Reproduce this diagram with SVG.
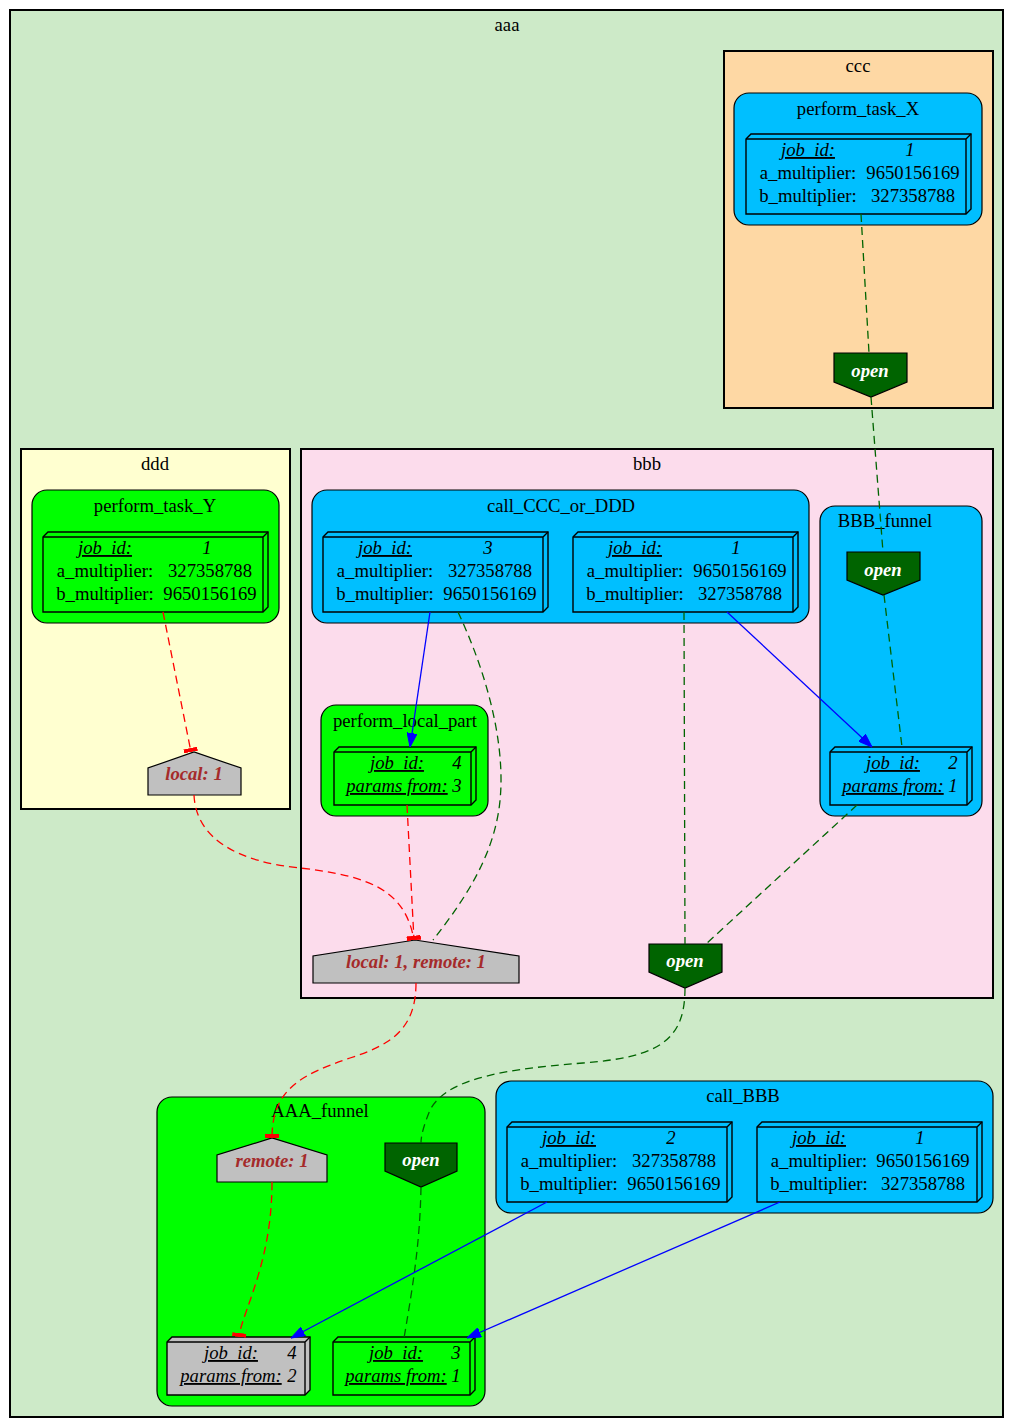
<svg xmlns="http://www.w3.org/2000/svg" width="1015" height="1428" viewBox="0 0 1015 1428">
<style>
text{font-family:"Liberation Serif","Times New Roman",serif;font-size:18.67px;fill:#000}
.c{text-anchor:middle}
.i{font-style:italic}
.u{text-decoration:underline}
.big{stroke:#000;stroke-width:2}
.sub{stroke:#000;stroke-width:1.2}
.b3{stroke:#000;stroke-width:1.4}
.b3l{fill:none;stroke:#000;stroke-width:1.4}
.tag{font-weight:bold;font-style:italic;text-anchor:middle}
.open{fill:#fff}
.loc{fill:#a52a2a}
.g{fill:none;stroke:#006400;stroke-width:1.3;stroke-dasharray:8,5}
.r{fill:none;stroke:#ff0000;stroke-width:1.3;stroke-dasharray:8,5}
.bl{fill:none;stroke:#0000ff;stroke-width:1.3}
.blue{fill:#00bfff}
.green{fill:#00ff00}
.gray{fill:#c0c0c0}
.dg{fill:#006400}
</style>
<defs>
<marker id="arr" markerUnits="userSpaceOnUse" markerWidth="14" markerHeight="10" viewBox="0 0 14 10" refX="14" refY="5" orient="auto">
<path d="M0,0 L14,5 L0,10 z" fill="#0000ff" stroke="#0000ff" stroke-width="1"/>
</marker>
<marker id="tee" markerUnits="userSpaceOnUse" markerWidth="4" markerHeight="14" viewBox="0 0 4 14" refX="4" refY="7" orient="auto">
<rect x="0" y="0" width="4" height="14" fill="#ff0000"/>
</marker>
</defs>

<g id="cluster_aaa">
<rect x="10" y="10" width="993" height="1407" fill="#cdeac8" class="big"/>
<text class="c" x="507" y="31">aaa</text>
</g>

<g id="cluster_ccc">
<rect x="724" y="51" width="269" height="357" fill="#fed8a4" class="big"/>
<text class="c" x="858" y="72">ccc</text>
</g>

<g id="cluster_ddd">
<rect x="21" y="449" width="269" height="360" fill="#ffffd0" class="big"/>
<text class="c" x="155" y="470">ddd</text>
</g>

<g id="cluster_bbb">
<rect x="301" y="449" width="692" height="549" fill="#fcdcec" class="big"/>
<text class="c" x="647" y="470">bbb</text>
</g>

<g id="perform_task_X">
<rect x="734" y="93" width="248" height="132" rx="15" class="sub blue"/>
<text class="c" x="858" y="115">perform_task_X</text>
<g id="X_job1">
<path d="M746,139 L751,134 L971,134 L971,209 L966,214 L746,214 z" class="b3 blue"/>
<path d="M746,139 L966,139 L966,214 M966,139 L971,134" class="b3l"/>
<text class="c i u" x="808" y="156">job_id:</text><text class="c i" x="910" y="156">1</text>
<text class="c" x="808" y="179">a_multiplier:</text><text class="c" x="913" y="179">9650156169</text>
<text class="c" x="808" y="202">b_multiplier:</text><text class="c" x="913" y="202">327358788</text>
</g>
</g>

<g id="open_ccc">
<path d="M834,353 L907,353 L907,382 L871,397 L834,382 z" class="sub dg"/>
<text class="tag open" x="870" y="377">open</text>
</g>

<g id="perform_task_Y">
<rect x="32" y="490" width="247" height="133" rx="15" class="sub green"/>
<text class="c" x="155" y="512">perform_task_Y</text>
<g id="Y_job1">
<path d="M43,537 L48,532 L268,532 L268,607 L263,612 L43,612 z" class="b3 green"/>
<path d="M43,537 L263,537 L263,612 M263,537 L268,532" class="b3l"/>
<text class="c i u" x="105" y="554">job_id:</text><text class="c i" x="207" y="554">1</text>
<text class="c" x="105" y="577">a_multiplier:</text><text class="c" x="210" y="577">327358788</text>
<text class="c" x="105" y="600">b_multiplier:</text><text class="c" x="210" y="600">9650156169</text>
</g>
</g>

<g id="local_ddd">
<path d="M148,795 L148,768 L194,752 L241,768 L241,795 z" class="sub gray"/>
<text class="tag loc" x="194" y="780">local: 1</text>
</g>

<g id="call_CCC_or_DDD">
<rect x="312" y="490" width="497" height="133" rx="15" class="sub blue"/>
<text class="c" x="561" y="512">call_CCC_or_DDD</text>
<g id="CCC_job3">
<path d="M323,537 L328,532 L548,532 L548,607 L543,612 L323,612 z" class="b3 blue"/>
<path d="M323,537 L543,537 L543,612 M543,537 L548,532" class="b3l"/>
<text class="c i u" x="385" y="554">job_id:</text><text class="c i" x="488" y="554">3</text>
<text class="c" x="385" y="577">a_multiplier:</text><text class="c" x="490" y="577">327358788</text>
<text class="c" x="385" y="600">b_multiplier:</text><text class="c" x="490" y="600">9650156169</text>
</g>
<g id="CCC_job1">
<path d="M573,537 L578,532 L798,532 L798,607 L793,612 L573,612 z" class="b3 blue"/>
<path d="M573,537 L793,537 L793,612 M793,537 L798,532" class="b3l"/>
<text class="c i u" x="635" y="554">job_id:</text><text class="c i" x="736" y="554">1</text>
<text class="c" x="635" y="577">a_multiplier:</text><text class="c" x="740" y="577">9650156169</text>
<text class="c" x="635" y="600">b_multiplier:</text><text class="c" x="740" y="600">327358788</text>
</g>
</g>

<g id="BBB_funnel">
<rect x="820" y="506" width="162" height="310" rx="15" class="sub blue"/>
<text class="c" x="885" y="527">BBB_funnel</text>
<g id="open_BBB">
<path d="M847,552 L920,552 L920,580 L883,595 L847,580 z" class="sub dg"/>
<text class="tag open" x="883" y="576">open</text>
</g>
<g id="BBB_job2">
<path d="M830,752 L835,747 L972,747 L972,800 L967,805 L830,805 z" class="b3 blue"/>
<path d="M830,752 L967,752 L967,805 M967,752 L972,747" class="b3l"/>
<text class="c i u" x="893" y="769">job_id:</text><text class="c i" x="953" y="769">2</text>
<text class="c i u" x="893" y="792">params from:</text><text class="c i" x="953" y="792">1</text>
</g>
</g>

<g id="perform_local_part">
<rect x="321" y="705" width="167" height="111" rx="15" class="sub green"/>
<text class="c" x="405" y="727">perform_local_part</text>
<g id="local_job4">
<path d="M334,752 L339,747 L476,747 L476,800 L471,805 L334,805 z" class="b3 green"/>
<path d="M334,752 L471,752 L471,805 M471,752 L476,747" class="b3l"/>
<text class="c i u" x="397" y="769">job_id:</text><text class="c i" x="457" y="769">4</text>
<text class="c i u" x="397" y="792">params from:</text><text class="c i" x="457" y="792">3</text>
</g>
</g>

<g id="local_remote_bbb">
<path d="M313,983 L313,956 L415,940 L519,956 L519,983 z" class="sub gray"/>
<text class="tag loc" x="416" y="968">local: 1, remote: 1</text>
</g>

<g id="open_bbb">
<path d="M649,944 L722,944 L722,972 L685,988 L649,972 z" class="sub dg"/>
<text class="tag open" x="685" y="967">open</text>
</g>

<g id="AAA_funnel">
<rect x="157" y="1097" width="328" height="309" rx="15" class="sub green"/>
<text class="c" x="320" y="1117">AAA_funnel</text>
<g id="remote_AAA">
<path d="M217,1182 L217,1155 L272,1138 L327,1155 L327,1182 z" class="sub gray"/>
<text class="tag loc" x="272" y="1167">remote: 1</text>
</g>
<g id="open_AAA">
<path d="M385,1143 L457,1143 L457,1171 L421,1187 L385,1171 z" class="sub dg"/>
<text class="tag open" x="421" y="1166">open</text>
</g>
<g id="AAA_job4">
<path d="M167,1342 L172,1337 L310,1337 L310,1390 L305,1395 L167,1395 z" class="b3 gray"/>
<path d="M167,1342 L305,1342 L305,1395 M305,1342 L310,1337" class="b3l"/>
<text class="c i u" x="231" y="1359">job_id:</text><text class="c i" x="292" y="1359">4</text>
<text class="c i u" x="231" y="1382">params from:</text><text class="c i" x="292" y="1382">2</text>
</g>
<g id="AAA_job3">
<path d="M333,1342 L338,1337 L475,1337 L475,1390 L470,1395 L333,1395 z" class="b3 green"/>
<path d="M333,1342 L470,1342 L470,1395 M470,1342 L475,1337" class="b3l"/>
<text class="c i u" x="396" y="1359">job_id:</text><text class="c i" x="456" y="1359">3</text>
<text class="c i u" x="396" y="1382">params from:</text><text class="c i" x="456" y="1382">1</text>
</g>
</g>

<g id="call_BBB">
<rect x="496" y="1081" width="497" height="132" rx="15" class="sub blue"/>
<text class="c" x="743" y="1102">call_BBB</text>
<g id="BBB_call_job2">
<path d="M507,1127 L512,1122 L732,1122 L732,1197 L727,1202 L507,1202 z" class="b3 blue"/>
<path d="M507,1127 L727,1127 L727,1202 M727,1127 L732,1122" class="b3l"/>
<text class="c i u" x="569" y="1144">job_id:</text><text class="c i" x="671" y="1144">2</text>
<text class="c" x="569" y="1167">a_multiplier:</text><text class="c" x="674" y="1167">327358788</text>
<text class="c" x="569" y="1190">b_multiplier:</text><text class="c" x="674" y="1190">9650156169</text>
</g>
<g id="BBB_call_job1">
<path d="M757,1127 L762,1122 L982,1122 L982,1197 L977,1202 L757,1202 z" class="b3 blue"/>
<path d="M757,1127 L977,1127 L977,1202 M977,1127 L982,1122" class="b3l"/>
<text class="c i u" x="819" y="1144">job_id:</text><text class="c i" x="920" y="1144">1</text>
<text class="c" x="819" y="1167">a_multiplier:</text><text class="c" x="923" y="1167">9650156169</text>
<text class="c" x="819" y="1190">b_multiplier:</text><text class="c" x="923" y="1190">327358788</text>
</g>
</g>

<g id="edges">
<path class="g" d="M861,214 L869,353"/>
<path class="g" d="M871,397 L883,552"/>
<path class="g" d="M884,595 L902,747"/>
<path class="g" d="M857,805 L706,944"/>
<path class="g" d="M684,612 L685,944"/>
<path class="g" d="M458,612 C490,680 510,760 497,820 C487,868 458,908 433,940"/>
<path class="g" d="M685,988 C685,1040 660,1057 583,1063 C490,1070 445,1082 430,1110 C424,1125 421,1135 421,1143"/>
<path class="g" d="M421,1187 C420,1240 414,1280 404,1338"/>
<path class="r" marker-end="url(#tee)" d="M163,612 L191,752"/>
<path class="r" marker-end="url(#tee)" d="M194,795 C196,840 240,862 300,868 C370,876 405,890 414,940"/>
<path class="r" marker-end="url(#tee)" d="M407,805 L414,940"/>
<path class="r" marker-end="url(#tee)" d="M416,983 C416,1030 390,1045 350,1058 C300,1075 272,1090 272,1138"/>
<path class="r" marker-end="url(#tee)" d="M272,1182 C272,1230 262,1265 252,1295 C245,1315 240,1328 239,1337"/>
<path class="bl" marker-end="url(#arr)" d="M430,612 L410,747"/>
<path class="bl" marker-end="url(#arr)" d="M727,612 L872,747"/>
<path class="bl" marker-end="url(#arr)" d="M547,1202 L291,1338"/>
<path class="bl" marker-end="url(#arr)" d="M780,1202 L467,1338"/>
</g>
</svg>
